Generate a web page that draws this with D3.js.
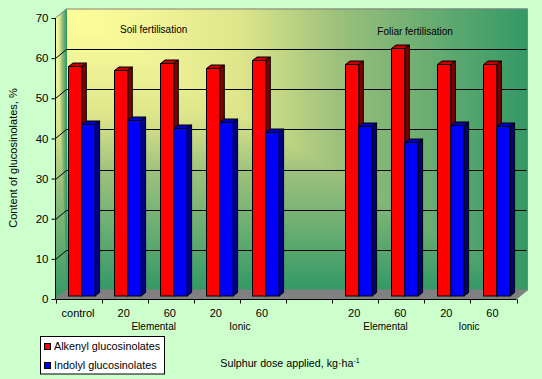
<!DOCTYPE html>
<html><head><meta charset="utf-8">
<script src="https://cdn.jsdelivr.net/npm/d3@7"></script>
<style>
html,body{margin:0;padding:0;background:#ccffcc;overflow:hidden}
text{font-family:"Liberation Sans",Arial,sans-serif;fill:#000}
</style></head><body>
<svg id="c" width="542" height="379"></svg>
<script>
const categories=["control","20","60","20","60","","20","60","20","60"];
const alkenyl=[57.3,56.5,58.2,57,59,null,58,61.9,57.8,57.8];
const indolyl=[43,44,41.9,43.5,41,null,42.5,38.4,42.8,42.5];
const yTicks=[0,10,20,30,40,50,60,70];
const seriesNames=["Alkenyl glucosinolates","Indolyl glucosinolates"];
const seriesColors=["#ff0000","#0000ff"];
const sideColors=["#800000","#000080"];
const topColors=["#c00000","#0000c0"];
const groupLabels=[{at:2.13,text:"Elemental"},{at:4,text:"Ionic"},{at:7.16,text:"Elemental"},{at:8.97,text:"Ionic"}];
const panelLabels=[{at:2.13,y:32.5,text:"Soil fertilisation"},{at:7.8,y:35,text:"Foliar fertilisation"}];

const x0=55.5,x1=516.5,y0=299,y70=18,dx=11,dy=-9;
const svg=d3.select("#c");
const x=d3.scaleBand().domain(d3.range(categories.length)).range([x0,x1]);
const y=d3.scaleLinear().domain([0,70]).range([y0,y70]);
const defs=svg.append("defs");
// "from corner" fill: colour follows max(x fraction, y fraction), built from two linear gradients
const gradStops=[[0,"#ffff99"],[.18,"#f1f497"],[.38,"#dde58a"],[.59,"#9bc07c"],[1,"#339966"]];
function grad(id,a,b,c,d){
 const g=defs.append("linearGradient").attr("id",id).attr("gradientUnits","userSpaceOnUse")
  .attr("x1",a).attr("y1",b).attr("x2",c).attr("y2",d);
 gradStops.forEach(s=>g.append("stop").attr("offset",s[0]).attr("stop-color",s[1]));
}
const bx0=x0+dx,bx1=x1+dx,by0=y70+dy,by1=y0+dy;
grad("wh",bx0,0,bx1,0);
grad("wv",0,by0,0,by1);
grad("lh",x0,0,bx0,0);
grad("lv",0,y70,0,y0);

const poly=(pts,fill,stroke)=>svg.append("polygon").attr("points",pts.map(p=>p.join(",")).join(" "))
 .attr("fill",fill).attr("stroke",stroke||"none");
// back wall
poly([[bx0,by0],[bx1,by0],[bx1,by1]],"url(#wh)","url(#wh)");
poly([[bx0,by0],[bx1,by1],[bx0,by1]],"url(#wv)","url(#wv)");
svg.append("path").attr("fill","none").attr("stroke","#808080").attr("d",`M${bx0},${by1}V${by0}H${bx1}V${by1}`);
// left wall
poly([[x0,y70],[bx0,by0],[bx0,by1]],"url(#lh)","url(#lh)");
poly([[x0,y70],[bx0,by1],[x0,y0]],"url(#lv)","url(#lv)");
svg.append("path").attr("fill","none").attr("stroke","#808080").attr("d",`M${x0},${y70}L${bx0},${by0}`);
// floor
poly([[x0,y0],[bx0,by1],[bx1,by1],[x1,y0]],"#808080","#808080");
// gridlines
yTicks.filter(v=>v>0&&v<70).forEach(v=>{
 const py=Math.round(y(v));
 svg.append("path").attr("fill","none").attr("stroke","#000").attr("stroke-width",1)
  .attr("d",d3.line()([[x0,py+.5],[bx0,py+dy+.5],[bx1-1,py+dy+.5]]));
});
// bars
const bd=4.5,bdy=-3.5,base=y0-3,bw=13.3;
function bar(cat,v,s){
 if(v==null)return;
 const l=Math.floor(x(cat)+13)+.5+s*bw, t=Math.round(y(v)-2.5)+.5;
 poly([[l,t],[l+bd,t+bdy],[l+bw+bd,t+bdy],[l+bw,t]],topColors[s],"#000");
 poly([[l+bw,t],[l+bw+bd,t+bdy],[l+bw+bd,base+bdy],[l+bw,base]],sideColors[s],"#000");
 svg.append("rect").attr("x",l).attr("y",t).attr("width",bw).attr("height",base-t)
  .attr("fill",seriesColors[s]).attr("stroke","#000");
}
categories.forEach((c,i)=>{bar(i,alkenyl[i],0);bar(i,indolyl[i],1);});
// axes
const ya=svg.append("g").attr("transform",`translate(${x0},0)`)
 .call(d3.axisLeft(y).tickValues(yTicks).tickSize(4).tickPadding(3));
ya.selectAll("text").attr("font-size",11.5).style("font-family",'"Liberation Sans",Arial,sans-serif');
ya.select(".domain").attr("stroke","#000").attr("d",`M0,${y(70)}V${y(0)}`);
const xa=svg.append("g").attr("transform",`translate(0,${y0+.5})`);
xa.append("line").attr("x1",x0).attr("x2",x1).attr("stroke","#000");
d3.range(categories.length+1).forEach(i=>{
 const px=Math.round(x0+i*x.bandwidth())+.5;
 xa.append("line").attr("x1",px).attr("x2",px).attr("y2",4).attr("stroke","#000");
});
categories.forEach((c,i)=>{
 svg.append("text").attr("x",x(i)+x.bandwidth()/2-(i?1:0.5)).attr("y",316.7).attr("text-anchor","middle").attr("font-size",11).text(c);
});
groupLabels.forEach(d=>{
 svg.append("text").attr("x",x0+d.at*x.bandwidth()).attr("y",329.5).attr("text-anchor","middle").attr("font-size",10).text(d.text);
});
panelLabels.forEach(d=>{
 svg.append("text").attr("x",x0+d.at*x.bandwidth()).attr("y",d.y).attr("text-anchor","middle").attr("font-size",10).text(d.text);
});
svg.append("text").attr("transform","translate(16.5,158) rotate(-90)").attr("text-anchor","middle").attr("font-size",11).text("Content of glucosinolates, %");
const xt=svg.append("text").attr("x",290).attr("y",366.7).attr("text-anchor","middle").attr("font-size",10.7);
xt.append("tspan").text("Sulphur dose applied, kg·ha");
xt.append("tspan").attr("font-size",7).attr("dy",-4).text("-1");
// legend
svg.append("rect").attr("x",40.5).attr("y",336.5).attr("width",124).attr("height",37.5).attr("fill","#fff").attr("stroke","#000");
seriesNames.forEach((n,i)=>{
 const yy=346+i*19;
 svg.append("rect").attr("x",44.5).attr("y",yy-2.5).attr("width",6).attr("height",6).attr("fill",seriesColors[i]).attr("stroke","#000");
 svg.append("text").attr("x",54).attr("y",yy+4).attr("font-size",10.8).text(n);
});
</script></body></html>
